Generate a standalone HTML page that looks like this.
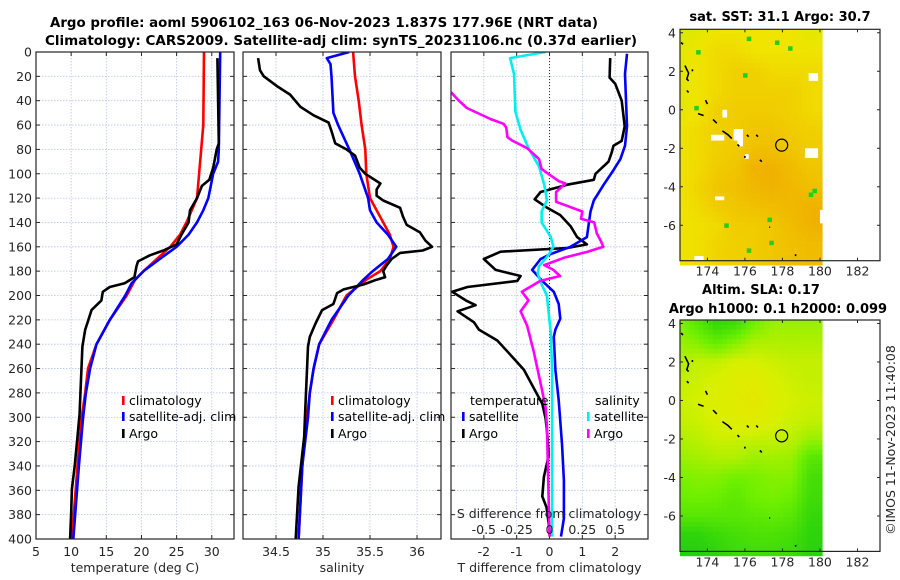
<!DOCTYPE html>
<html><head><meta charset="utf-8"><style>
html,body{margin:0;padding:0;background:#fff;width:900px;height:580px;overflow:hidden}
svg{display:block}
text{font-family:"DejaVu Sans","Liberation Sans",sans-serif}
</style></head><body>
<svg id="chart" width="900" height="580" xmlns="http://www.w3.org/2000/svg">
<text x="324" y="27" text-anchor="middle" font-size="13" font-weight="bold" textLength="548" lengthAdjust="spacingAndGlyphs">Argo profile: aoml 5906102_163 06-Nov-2023 1.837S 177.96E (NRT data)</text>
<text x="341" y="45" text-anchor="middle" font-size="13" font-weight="bold" textLength="592" lengthAdjust="spacingAndGlyphs">Climatology: CARS2009. Satellite-adj clim: synTS_20231106.nc (0.37d earlier)</text>
<text x="780" y="21" text-anchor="middle" font-size="13" font-weight="bold">sat. SST: 31.1 Argo: 30.7</text>
<text x="761" y="294" text-anchor="middle" font-size="13" font-weight="bold">Altim. SLA: 0.17</text>
<text x="778" y="313" text-anchor="middle" font-size="13" font-weight="bold">Argo h1000: 0.1 h2000: 0.099</text>
<text transform="translate(895,440) rotate(-90)" text-anchor="middle" font-size="12.5" fill="#262626">©IMOS 11-Nov-2023 11:40:08</text>
<g id="layer"></g>
</svg>
<script>
// ---- profile data (depth in dbar) ----
const tArgoDepth=[5,75,80,95,105,110,120,130,140,150,158,163,167,172,176,185,190,193,197,204,208,212,221,228,242,269,297,316,340,359,378,400];
const tArgoVal=[30.8,31.0,30.7,30.2,29.65,28.6,27.9,26.9,26.7,25.7,25.0,23.1,21.2,19.5,19.3,19.0,17.6,15.5,14.5,14.3,13.6,12.9,12.4,12.0,11.6,11.4,11.2,10.9,10.5,10.1,10.0,9.85];
const tClimDepth=[0,60,100,120,140,150,160,170,180,187,200,220,240,260,280,300,340,400];
const tClimVal=[28.9,28.8,28.2,27.9,26.4,25.5,24.1,22.2,20.3,19.1,17.9,15.5,13.6,12.4,12.0,11.5,10.9,10.1];
const tSatDepth=[0,80,90,100,120,130,140,150,160,170,180,190,200,220,240,260,280,300,340,400];
const tSatVal=[31.2,31.0,30.9,30.2,29.5,28.8,27.9,26.7,25.0,22.6,20.3,18.6,17.7,15.5,13.6,12.7,12.1,11.7,11.1,10.3];

const sArgoDepth=[5,15,20,28,35,45,52,58,65,75,80,85,95,100,108,113,118,122,128,135,142,148,155,160,163,165,170,175,180,185,187,191,195,198,207,212,223,234,242,297,316,357,400];
const sArgoVal=[34.31,34.33,34.37,34.51,34.65,34.76,34.90,35.06,35.09,35.13,35.25,35.34,35.39,35.45,35.61,35.57,35.57,35.64,35.82,35.85,35.89,36.03,36.09,36.16,36.06,35.82,35.73,35.68,35.64,35.66,35.57,35.43,35.22,35.15,35.11,34.99,34.92,34.86,34.84,34.81,34.80,34.74,34.71];
const sClimDepth=[0,20,40,60,80,100,120,140,150,160,170,180,187,200,220,240,260,280,300,340,400];
const sClimVal=[35.32,35.34,35.38,35.41,35.45,35.46,35.50,35.64,35.71,35.75,35.71,35.61,35.46,35.25,35.11,34.96,34.90,34.86,34.83,34.78,34.74];
const sSatDepth=[0,5,10,20,50,60,80,100,120,130,140,150,160,170,180,187,200,220,240,260,280,300,340,400];
const sSatVal=[35.28,35.04,35.08,35.09,35.11,35.16,35.28,35.39,35.48,35.50,35.57,35.69,35.78,35.69,35.53,35.43,35.27,35.09,34.96,34.90,34.86,34.84,34.78,34.74];

const dtArgoDepth=[5,21,26,40,61,73,77,82,90,100,105,109,115,121,128,134,143,152,158,161,164,170,179,184,188,193,197,204,208,213,222,228,237,249,261,276,289,301,313,331,349,365,374,398];
const dtArgoVal=[1.85,1.83,2.0,2.2,2.29,2.2,1.95,1.9,1.8,1.40,1.35,0.54,-0.27,-0.45,-0.07,0.33,0.64,0.84,1.14,0.54,-1.49,-2.0,-1.64,-0.88,-0.98,-2.5,-2.96,-2.55,-2.25,-2.8,-2.3,-2.15,-1.59,-1.18,-0.78,-0.48,-0.22,-0.12,-0.07,-0.02,-0.17,-0.22,-0.09,0.03];
const dtSatDepth=[1.5,18,61,77,88,97,109,122,131,152,160,166,170,179,188,197,207,219,228,234,261,286,322,352,383,398];
const dtSatVal=[2.36,2.3,2.36,2.3,2.16,1.95,1.65,1.35,1.25,1.14,0.64,0.03,-0.27,-0.53,-0.22,0.13,0.28,0.33,0.18,0.13,0.18,0.28,0.38,0.44,0.44,0.35];
const dsSatDepth=[0,5,18,49,64,79,94,109,115,122,131,140,152,160,167,176,182,191,200,231,261,322,398];
const dsSatVal=[-0.03,-0.30,-0.27,-0.26,-0.22,-0.16,-0.08,-0.04,-0.03,-0.02,-0.06,-0.06,0.01,0.03,-0.01,-0.08,-0.09,-0.06,-0.02,0.01,0.02,0.02,0.02];
const dsArgoDepth=[33,40,46,55,59,62,70,73,79,88,96,100,106,108,115,123,131,137,140,149,155,160,164,169,175,179,184,188,197,204,213,225,246,276,292,307,352,398];
const dsArgoVal=[-0.75,-0.69,-0.63,-0.45,-0.35,-0.33,-0.32,-0.28,-0.17,-0.08,-0.06,-0.01,0.07,0.12,0.05,0.05,0.25,0.24,0.34,0.36,0.39,0.41,0.29,0.11,-0.04,0.03,0.08,-0.07,-0.21,-0.16,-0.22,-0.17,-0.12,-0.06,-0.03,-0.02,-0.01,0];

const depthTicks=[0,20,40,60,80,100,120,140,160,180,200,220,240,260,280,300,320,340,360,380,400];
const tempTicks=[5,10,15,20,25,30];
const salTicks=[34.5,35,35.5,36];
const dTTicks=[-2,-1,0,1,2];
const dSTicks=[-0.5,-0.25,0,0.25,0.5];
const dSTickLabels=["-0.5","-0.25","0","0.25","0.5"];

// ---- map data (coarse grids, rows lat 4..-8, cols lon 172.5..180.5) ----
const gridLats=[4,3,2,1,0,-1,-2,-3,-4,-5,-6,-7,-8];
const gridLons=[172.5,173.5,174.5,175.5,176.5,177.5,178.5,179.5,180.5];
const sstGrid=[
[0.5,0.55,0.6,0.6,0.6,0.6,0.6,0.55,0.55],
[0.55,0.6,0.65,0.65,0.6,0.6,0.6,0.6,0.6],
[0.55,0.6,0.65,0.7,0.7,0.65,0.65,0.65,0.65],
[0.55,0.6,0.65,0.7,0.7,0.7,0.7,0.65,0.65],
[0.55,0.6,0.7,0.72,0.72,0.72,0.7,0.65,0.65],
[0.6,0.65,0.7,0.72,0.75,0.75,0.72,0.7,0.7],
[0.6,0.65,0.7,0.72,0.78,0.78,0.75,0.72,0.72],
[0.6,0.65,0.72,0.75,0.85,0.85,0.8,0.75,0.75],
[0.6,0.68,0.75,0.78,0.82,0.85,0.82,0.78,0.78],
[0.6,0.65,0.72,0.75,0.78,0.8,0.82,0.85,0.85],
[0.6,0.62,0.65,0.72,0.72,0.75,0.8,0.85,0.85],
[0.6,0.62,0.68,0.7,0.72,0.75,0.78,0.8,0.8],
[0.6,0.62,0.68,0.7,0.72,0.75,0.78,0.8,0.8]];
const slaGrid=[
[0.45,0.3,0.15,0.2,0.4,0.5,0.5,0.5,0.5],
[0.5,0.45,0.35,0.45,0.55,0.55,0.55,0.55,0.55],
[0.55,0.6,0.6,0.65,0.65,0.62,0.6,0.6,0.6],
[0.6,0.62,0.66,0.7,0.72,0.66,0.62,0.6,0.6],
[0.62,0.64,0.68,0.72,0.76,0.68,0.64,0.62,0.62],
[0.6,0.62,0.66,0.7,0.72,0.66,0.62,0.6,0.6],
[0.55,0.58,0.62,0.62,0.6,0.6,0.58,0.5,0.5],
[0.5,0.52,0.55,0.55,0.5,0.52,0.5,0.3,0.3],
[0.42,0.45,0.45,0.4,0.42,0.45,0.45,0.22,0.22],
[0.38,0.4,0.38,0.32,0.4,0.42,0.38,0.2,0.2],
[0.3,0.3,0.3,0.3,0.32,0.34,0.3,0.15,0.15],
[0.12,0.12,0.18,0.22,0.25,0.25,0.22,0.12,0.12],
[0.08,0.08,0.12,0.18,0.2,0.2,0.18,0.1,0.1]];
const sstGreenLon=[173.4,176.1,177.6,178.3,179.6,175.9,173.3,177.2,177.3,174.9,176.1,179.4];
const sstGreenLat=[3.1,3.8,3.6,3.3,-4.1,1.9,0.2,-5.6,-6.8,-5.9,-7.2,-4.3];
const sstGapLon=[174.8,175.4,174.2,179.2,175.6,176.0,180.0,179.4,173.3,174.4];
const sstGapLat=[0.0,-1.0,-1.3,-2.0,-1.6,-2.3,-5.2,1.9,-7.6,-4.5];
const sstGapW=[0.25,0.5,0.7,0.7,0.3,0.2,0.3,0.5,0.5,0.5];
const sstGapH=[0.4,0.6,0.3,0.5,0.3,0.25,0.7,0.4,0.25,0.2];
const coastLon=[[172.6,172.7],[172.8,173.0,172.9,173.0],[172.9,173.0],[173.5,173.8],[173.9,174.0],[174.3,174.5],[174.8,175.1,175.3],[175.6,175.7],[176.1,176.2],[176.6,176.7],[176.0,176.0],[176.8,176.9],[177.3,177.35],[178.7,178.7],[173.2,173.2]];
const coastLat=[[3.5,3.4],[2.3,1.9,1.6,1.5],[1.0,0.9],[-0.2,-0.3],[0.5,0.3],[-0.5,-0.7],[-1.1,-1.3,-1.5],[-1.8,-1.9],[-1.3,-1.4],[-1.3,-1.4],[-2.4,-2.5],[-2.6,-2.7],[-6.1,-6.1],[-7.5,-7.6],[2.1,2.0]];
const floatLon=[177.96];
const floatLat=[-1.837];

const NS="http://www.w3.org/2000/svg";
const layer=document.getElementById('layer');
function el(tag,attrs,parent){const e=document.createElementNS(NS,tag);for(const k in attrs)e.setAttribute(k,attrs[k]);(parent||layer).appendChild(e);return e;}
function txt(s,attrs,parent){const e=el('text',attrs,parent);e.textContent=s;return e;}

const TOP=52,BOT=539;
function yDepth(d){return TOP+d*(BOT-TOP)/400;}
function makeX(left,right,vmin,vmax){return v=>left+(v-vmin)/(vmax-vmin)*(right-left);}

const panels=[
 {name:'temperature-panel',left:36,right:234,vmin:5,vmax:33.16,ticks:tempTicks,labels:tempTicks.map(String),xlabel:'temperature (deg C)',ylabels:true},
 {name:'salinity-panel',left:243,right:441,vmin:34.149,vmax:36.255,ticks:salTicks,labels:salTicks.map(String),xlabel:'salinity',ylabels:false},
 {name:'difference-panel',left:451,right:648,vmin:-3,vmax:3,ticks:dTTicks,labels:dTTicks.map(String),xlabel:'T difference from climatology',ylabels:false}
];
panels.forEach(p=>{p.x=makeX(p.left,p.right,p.vmin,p.vmax);});

function drawFrame(p){
 const g=el('g',{});
 
 
 el('rect',{x:p.left,y:TOP,width:p.right-p.left,height:BOT-TOP,fill:'#fff'},g);
 depthTicks.forEach(d=>{
  const y=yDepth(d);
  const gl=el('line',{x1:p.left,x2:p.right,y1:y,y2:y,stroke:'#b8c4e8','stroke-width':0.8,'stroke-dasharray':'1.5,1.5'},g);
  
  
  el('line',{x1:p.left,x2:p.left+4,y1:y,y2:y,stroke:'#262626'},g);
  el('line',{x1:p.right-4,x2:p.right,y1:y,y2:y,stroke:'#262626'},g);
  if(p.ylabels){const t=txt(String(d),{x:p.left-4,y:y+4.5,'text-anchor':'end','font-size':12.5,fill:'#262626'},g);
   
   }
 });
 p.ticks.forEach((v,i)=>{
  const x=p.x(v);
  const gl=el('line',{x1:x,x2:x,y1:TOP,y2:BOT,stroke:'#b8c4e8','stroke-width':0.8,'stroke-dasharray':'1.5,1.5'},g);
  
  
  el('line',{x1:x,x2:x,y1:BOT,y2:BOT-4,stroke:'#262626'},g);
  el('line',{x1:x,x2:x,y1:TOP,y2:TOP+4,stroke:'#262626'},g);
  const t=txt(p.labels[i],{x:x,y:556,'text-anchor':'middle','font-size':12.5,fill:'#262626'},g);
  
  
 });
 const xt=txt(p.xlabel,{x:(p.left+p.right)/2,y:572,'text-anchor':'middle','font-size':12.5,fill:'#262626'},g);
 
 
 return g;
}
function drawLine(p,depths,vals,color,name,w){
 const pts=depths.map((d,i)=>p.x(vals[i]).toFixed(1)+','+yDepth(d).toFixed(1)).join(' ');
 const l=el('polyline',{points:pts,fill:'none',stroke:color,'stroke-width':w||2.6,'stroke-linejoin':'round','clip-path':'url(#clip-'+p.name+')'});
 
 
}
const defs=el('defs',{});
panels.forEach(p=>{const c=el('clipPath',{id:'clip-'+p.name},defs);el('rect',{x:p.left,y:TOP,width:p.right-p.left,height:BOT-TOP},c);});

panels.forEach(p=>drawFrame(p));
// zero line in difference panel
const zl=el('line',{x1:panels[2].x(0),x2:panels[2].x(0),y1:TOP,y2:BOT,stroke:'#1a3a1a','stroke-width':1,'stroke-dasharray':'1,2'});



drawLine(panels[0],tClimDepth,tClimVal,'#ff0000','temperature-climatology-line');
drawLine(panels[0],tSatDepth,tSatVal,'#0000ff','temperature-satellite-line');
drawLine(panels[0],tArgoDepth,tArgoVal,'#000000','temperature-argo-line');
drawLine(panels[1],sClimDepth,sClimVal,'#ff0000','salinity-climatology-line');
drawLine(panels[1],sSatDepth,sSatVal,'#0000ff','salinity-satellite-line');
drawLine(panels[1],sArgoDepth,sArgoVal,'#000000','salinity-argo-line');
const p3=panels[2];
drawLine(p3,dtArgoDepth,dtArgoVal,'#000000','t-diff-argo-line');
drawLine(p3,dtSatDepth,dtSatVal,'#0000ff','t-diff-satellite-line');
// salinity differences on S axis: S scale -0.75..0.75
const pS={name:p3.name,x:makeX(p3.left,p3.right,-0.75,0.75)};
drawLine(pS,dsSatDepth,dsSatVal,'#00f0f0','s-diff-satellite-line');
drawLine(pS,dsArgoDepth,dsArgoVal,'#ff00ff','s-diff-argo-line');

// frames on top
panels.forEach(p=>{el('rect',{x:p.left,y:TOP,width:p.right-p.left,height:BOT-TOP,fill:'none',stroke:'#262626','stroke-width':1.2});});

// S axis labels inside panel 3
const sTitle=txt('S difference from climatology',{x:549,y:518,'text-anchor':'middle','font-size':12.5,fill:'#262626'});


dSTicks.forEach((v,i)=>{const t=txt(dSTickLabels[i],{x:pS.x(v),y:534,'text-anchor':'middle','font-size':12.5,fill:'#262626'});
 
 });

// legends
function legend(x,y,color,label,name){
 const g=el('g',{});
 
 
 el('rect',{x:x,y:y-9,width:2.6,height:9,fill:color},g);
 txt(label,{x:x+7,y:y,'font-size':12.5,fill:'#000'},g);
}
legend(122,405,'#ff0000','climatology','legend-entry-climatology');
legend(122,421,'#0000ff','satellite-adj. clim','legend-entry-satellite-adj');
legend(122,438,'#000000','Argo','legend-entry-argo');
legend(331,405,'#ff0000','climatology','legend-entry-climatology-sal');
legend(331,421,'#0000ff','satellite-adj. clim','legend-entry-satellite-adj-sal');
legend(331,438,'#000000','Argo','legend-entry-argo-sal');
const lt=txt('temperature',{x:470,y:405,'font-size':12.5});


const ls=txt('salinity',{x:595,y:405,'font-size':12.5});


legend(462,421,'#0000ff','satellite','legend-entry-t-satellite');
legend(462,438,'#000000','Argo','legend-entry-t-argo');
legend(587,421,'#00f0f0','satellite','legend-entry-s-satellite');
legend(587,438,'#ff00ff','Argo','legend-entry-s-argo');

// ---- maps ----
const MAPL=680,MAPR=880,LON0=172.54,LON1=183.2,LAT0=4.18,LAT1=-7.84,DATAEDGE=180.12;
function lerp(a,b,t){return a+(b-a)*t;}
function cmap(stops,v){
 v=Math.max(0,Math.min(1,v));
 for(let i=1;i<stops.length;i++){if(v<=stops[i][0]){const t=(v-stops[i-1][0])/(stops[i][0]-stops[i-1][0]);
  const a=stops[i-1][1],b=stops[i][1];return 'rgb('+[0,1,2].map(k=>Math.round(lerp(a[k],b[k],t))).join(',')+')';}}
 const c=stops[stops.length-1][1];return 'rgb('+c.join(',')+')';
}
const sstStops=[[0,[20,200,20]],[0.4,[190,240,0]],[0.6,[240,228,0]],[0.9,[240,168,0]],[1,[232,144,0]]];
const slaStops=[[0,[16,200,16]],[0.4,[112,240,0]],[0.65,[216,240,0]],[0.85,[240,224,0]],[1,[240,200,0]]];
function sample(grid,lon,lat){
 let fi=(gridLats[0]-lat); fi=Math.max(0,Math.min(gridLats.length-1.001,fi));
 let fj=(lon-gridLons[0]); fj=Math.max(0,Math.min(gridLons.length-1.001,fj));
 const i=Math.floor(fi),j=Math.floor(fj),ti=fi-i,tj=fj-j;
 return lerp(lerp(grid[i][j],grid[i][j+1],tj),lerp(grid[i+1][j],grid[i+1][j+1],tj),ti);
}
function drawMap(top,grid,stops,name,extras){
 const bot=top+231.4;
 const mx=lon=>MAPL+(lon-LON0)/(LON1-LON0)*(MAPR-MAPL);
 const my=lat=>top+(LAT0-lat)/(LAT0-LAT1)*(bot-top);
 const g=el('g',{});
 
 
 const step=0.25;
 for(let lat=LAT0;lat>LAT1;lat-=step){
  for(let lon=LON0;lon<DATAEDGE;lon+=step){
   const v=sample(grid,lon+step/2,lat-step/2);
   const w=Math.min(step,DATAEDGE-lon);
   el('rect',{x:mx(lon).toFixed(2),y:my(lat).toFixed(2),width:(mx(lon+w)-mx(lon)+0.4).toFixed(2),height:(my(lat-step)-my(lat)+0.4).toFixed(2),fill:cmap(stops,v)},g);
  }
 }
 if(extras){
  sstGreenLon.forEach((lon,i)=>{const r=el('rect',{x:mx(lon),y:my(sstGreenLat[i]),width:4.5,height:4.5,fill:'#20d020'},g);
   
   });
  sstGapLon.forEach((lon,i)=>{const r=el('rect',{x:mx(lon),y:my(sstGapLat[i]),width:mx(lon+sstGapW[i])-mx(lon),height:my(sstGapLat[i]-sstGapH[i])-my(sstGapLat[i]),fill:'#fff'},g);
   
   });
 }
 coastLon.forEach((arr,k)=>{const pts=arr.map((lon,i)=>mx(lon).toFixed(1)+','+my(coastLat[k][i]).toFixed(1)).join(' ');
  const c=el('polyline',{points:pts,fill:'none',stroke:'#000','stroke-width':1.6},g);
  
  });
 floatLon.forEach((lon,i)=>{const c=el('circle',{cx:mx(lon),cy:my(floatLat[i]),r:6,fill:'none',stroke:'#000','stroke-width':1.2},g);
  
  });
 el('rect',{x:MAPL,y:top,width:MAPR-MAPL,height:bot-top,fill:'none',stroke:'#262626','stroke-width':1.2},g);
 [4,2,0,-2,-4,-6].forEach(lat=>{const y=my(lat);
  el('line',{x1:MAPL,x2:MAPL+3,y1:y,y2:y,stroke:'#262626'},g);
  el('line',{x1:MAPR-3,x2:MAPR,y1:y,y2:y,stroke:'#262626'},g);
  const t=txt(String(lat),{x:MAPL-4,y:y+4.5,'text-anchor':'end','font-size':12.5,fill:'#262626'},g);
  
  });
 [174,176,178,180,182].forEach(lon=>{const x=mx(lon);
  el('line',{x1:x,x2:x,y1:bot,y2:bot-3,stroke:'#262626'},g);
  el('line',{x1:x,x2:x,y1:top,y2:top+3,stroke:'#262626'},g);
  const t=txt(String(lon),{x:x,y:bot+15,'text-anchor':'middle','font-size':12.5,fill:'#262626'},g);
  
  });
}
drawMap(29.3,sstGrid,sstStops,'sst-map',true);
drawMap(320,slaGrid,slaStops,'sla-map',false);
</script>
</body></html>
